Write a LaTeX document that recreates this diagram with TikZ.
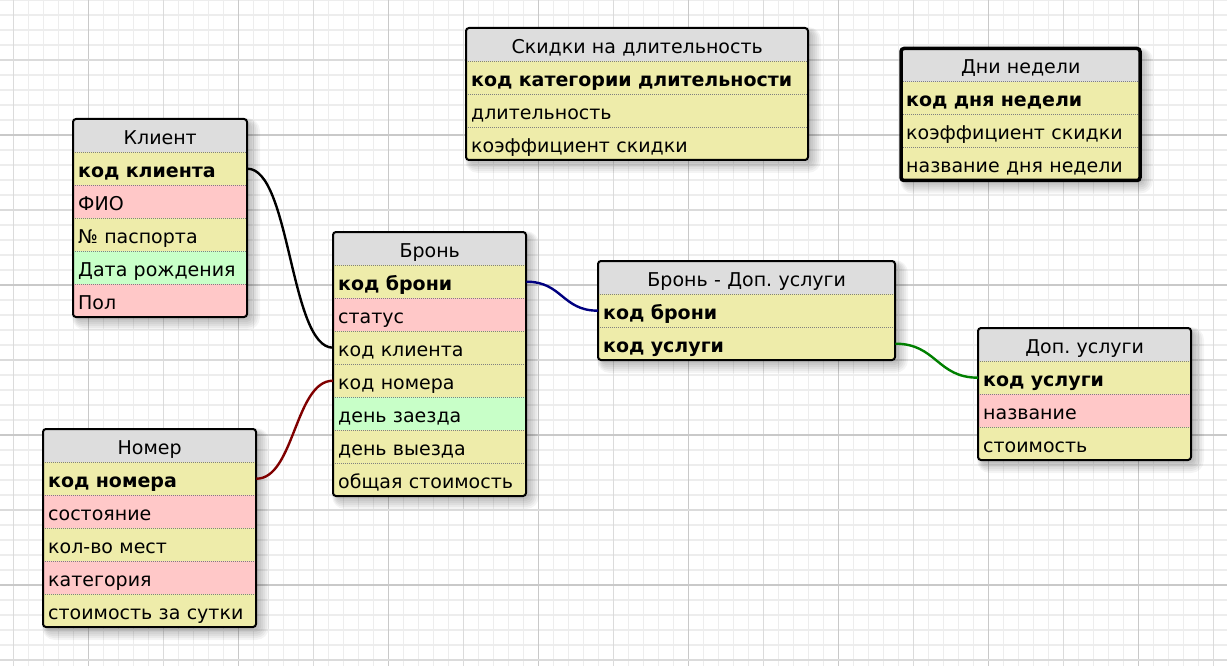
\documentclass[tikz,border=0pt]{standalone}
\usepackage{fontspec}
\setmainfont{DejaVu Sans}
\frenchspacing
\definecolor{hdrc}{RGB}{221,221,221}
\definecolor{numc}{RGB}{238,236,170}
\definecolor{chrc}{RGB}{255,200,200}
\definecolor{datc}{RGB}{200,255,200}
\definecolor{linkred}{RGB}{128,0,0}
\definecolor{linkblue}{RGB}{0,0,128}
\definecolor{linkgreen}{RGB}{0,128,0}

\tikzset{
  gridminor/.style={draw=black!7, line width=1.2pt},
  gridmid/.style={draw=black!14, line width=1.2pt},
  griddark/.style={draw=black!21, line width=1.2pt},
  ercell/.style={anchor=north west, inner xsep=5pt, inner ysep=0pt,
    minimum height=33pt, text height=19.5pt, text depth=2.5pt},
  erhead/.style={ercell, fill=hdrc, align=center},
  errow/.style={ercell, align=left},
  ersep/.style={draw=black!50, line width=0.8pt, dash pattern=on 1pt off 1pt},
  erframe/.style={draw=black, line width=2pt, rounded corners=3pt},
  erlink/.style={line width=2.4pt},
}

% #1 name, #2 left, #3 top, #4 width, #5 number of rows, #6 title,
% #7 rows as colour/text, #8 frame width
\newcommand\ertable[8]{%
  \pgfmathsetmacro\erbot{#3+33*(#5+1)}%
  \pgfmathsetmacro\ertw{#4-10}%
  \foreach \e in {0,2,...,10}{%
    \fill[black, opacity=0.045, rounded corners={(3+\e)*1pt}]
      ({#2+4-\e/2},{#3+4-\e/2}) rectangle ({#2+#4+3+\e},{\erbot+3+\e});
  }%
  \begin{scope}
    \clip[rounded corners=3pt] (#2,#3) rectangle ({#2+#4},\erbot);
    \node[erhead, minimum width=#4, text width=\ertw] (#1-h) at (#2,#3) {#6};
    \foreach [count=\i] \c/\t in {#7}{%
      \node[errow, fill=\c, minimum width=#4, text width=\ertw]
        (#1-\i) at (#2,{#3+33*\i}) {\t};
      \draw[ersep] (#1-\i.north west) -- (#1-\i.north east);
    }%
  \end{scope}
  \draw[erframe, line width=#8] (#2,#3) rectangle ({#2+#4},\erbot);
}

\begin{document}
\begin{tikzpicture}[x=1pt, y=-1pt, font=\fontsize{19}{22}\selectfont\frenchspacing]
  \useasboundingbox (0,0) rectangle (1227,666);
  \fill[white] (0,0) rectangle (1227,666);

  % background grid
  \foreach \gx in {-1.5,13.5,...,1230} \draw[gridminor] (\gx,0) -- (\gx,666);
  \foreach \gy in {0,15,...,666} \draw[gridminor] (0,\gy) -- (1227,\gy);
  \foreach \gx in {13.5,163.5,...,1230} \draw[gridmid] (\gx,0) -- (\gx,666);
  \foreach \gx in {88.5,238.5,...,1230} \draw[griddark] (\gx,0) -- (\gx,666);
  \foreach \gy in {60,210,...,666} \draw[gridmid] (0,\gy) -- (1227,\gy);
  \foreach \gy in {135,285,...,666} \draw[griddark] (0,\gy) -- (1227,\gy);

  % tables
  \ertable{skidki}{466}{28}{342}{3}{Скидки на длительность}
    {numc/\textbf{код категории длительности}, numc/длительность,
     numc/коэффициент скидки}{2pt}
  \ertable{dni}{901}{48.5}{239}{3}{Дни недели}
    {numc/\textbf{код дня недели}, numc/коэффициент скидки,
     numc/название дня недели}{3.5pt}
  \ertable{klient}{73}{119}{174}{5}{Клиент}
    {numc/\textbf{код клиента}, chrc/ФИО, numc/№ паспорта,
     datc/Дата рождения, chrc/Пол}{2pt}
  \ertable{bron}{333}{232}{193}{7}{Бронь}
    {numc/\textbf{код брони}, chrc/статус, numc/код клиента,
     numc/код номера, datc/день заезда, numc/день выезда,
     numc/общая стоимость}{2pt}
  \ertable{nomer}{43}{429}{213}{5}{Номер}
    {numc/\textbf{код номера}, chrc/состояние, numc/кол-во мест,
     chrc/категория, numc/стоимость за сутки}{2pt}
  \ertable{bdu}{598}{261}{297}{2}{Бронь - Доп. услуги}
    {numc/\textbf{код брони}, numc/\textbf{код услуги}}{2pt}
  \ertable{usl}{978}{328}{213}{3}{Доп. услуги}
    {numc/\textbf{код услуги}, chrc/название, numc/стоимость}{2pt}

  % relations
  \draw[erlink, black] (klient-1.east) .. controls +(43,0) and +(-43,0) .. (bron-3.west);
  \draw[erlink, linkred] (nomer-1.east) .. controls +(38,0) and +(-38,0) .. (bron-4.west);
  \draw[erlink, linkblue] (bron-1.east) .. controls +(36,0) and +(-36,0) .. (bdu-1.west);
  \draw[erlink, linkgreen] (bdu-2.east) .. controls +(41,0) and +(-41,0) .. (usl-1.west);
\end{tikzpicture}
\end{document}
